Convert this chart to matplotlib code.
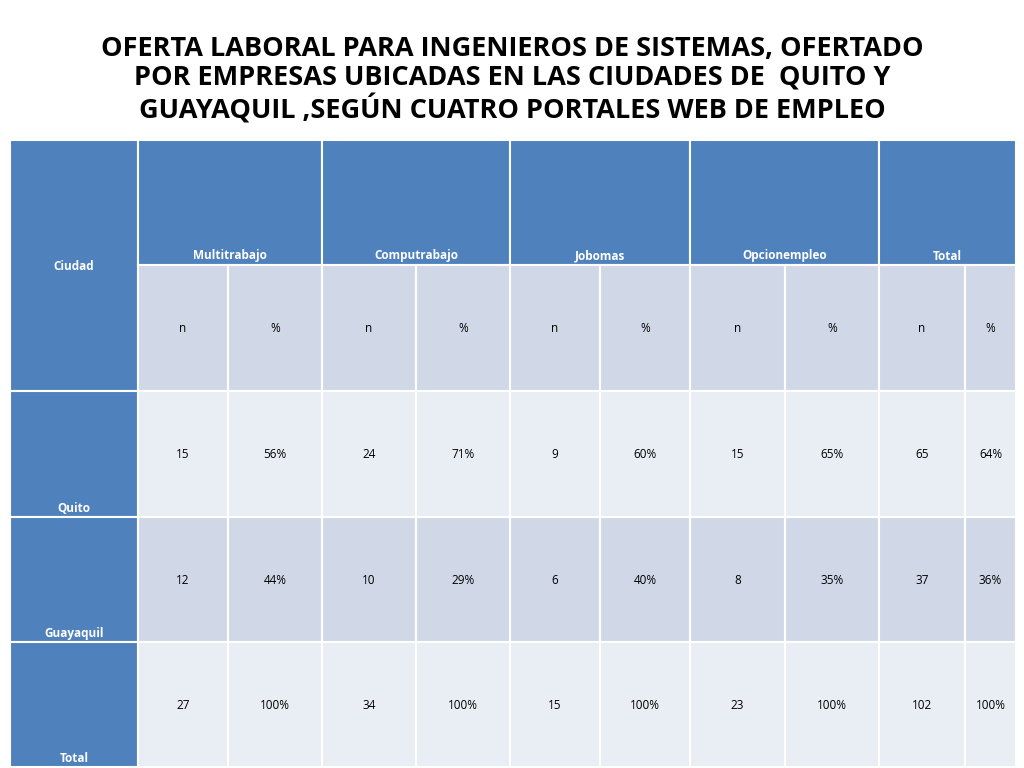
import matplotlib
matplotlib.use("Agg")
import matplotlib.pyplot as plt
from matplotlib.patches import Rectangle

title = "OFERTA LABORAL PARA INGENIEROS DE SISTEMAS, OFERTADO\nPOR EMPRESAS UBICADAS EN LAS CIUDADES DE  QUITO Y\nGUAYAQUIL ,SEGÚN CUATRO PORTALES WEB DE EMPLEO"
portals = ["Multitrabajo", "Computrabajo", "Jobomas", "Opcionempleo", "Total"]
cities = ["Quito", "Guayaquil", "Total"]
n_vals = [[15, 24, 9, 15, 65], [12, 10, 6, 8, 37], [27, 34, 15, 23, 102]]
pct_vals = [["56%", "71%", "60%", "65%", "64%"], ["44%", "29%", "40%", "35%", "36%"],
            ["100%", "100%", "100%", "100%", "100%"]]

xs = [10, 138, 228, 322, 416, 510, 600, 690, 785, 879, 965, 1016]
ys = [140, 265, 391, 517, 642, 767]
BLUE = "#4F81BD"; DARK = "#D0D8E8"; LIGHT = "#E9EDF4"
font = "Open Sans"

fig = plt.figure(figsize=(10.24, 7.68), dpi=100)
ax = fig.add_axes([0, 0, 1, 1])
ax.set_xlim(0, 1024); ax.set_ylim(768, 0); ax.axis("off")

def cell(x0, y0, x1, y1, fc):
    ax.add_patch(Rectangle((x0, y0), x1 - x0, y1 - y0, fc=fc, ec="white", lw=1.5))

ax.text(512, 80, title, ha="center", va="center", fontsize=19.5, fontweight="bold",
        family=font, linespacing=1.15, color="black")

# Ciudad header
cell(xs[0], ys[0], xs[1], ys[2], BLUE)
ax.text((xs[0] + xs[1]) / 2, 266, "Ciudad", ha="center", va="center", color="white",
        fontsize=8.5, fontweight="bold", family=font)
for i, p in enumerate(portals):
    x0, x1 = xs[1 + 2 * i], xs[3 + 2 * i]
    cell(x0, ys[0], x1, ys[1], BLUE)
    ax.text((x0 + x1) / 2, 256, p, ha="center", va="center", color="white",
            fontsize=8.5, fontweight="bold", family=font)
    for j, lab in enumerate(["n", "%"]):
        a, b = xs[1 + 2 * i + j], xs[2 + 2 * i + j]
        cell(a, ys[1], b, ys[2], DARK)
        ax.text((a + b) / 2, 329, lab, ha="center", va="center", fontsize=8.5, family=font)

for r, c in enumerate(cities):
    y0, y1 = ys[2 + r], ys[3 + r]
    cell(xs[0], y0, xs[1], y1, BLUE)
    ax.text((xs[0] + xs[1]) / 2, y1 - 9, c, ha="center", va="center", color="white",
            fontsize=8.5, fontweight="bold", family=font)
    fc = DARK if r == 1 else LIGHT
    for i in range(5):
        for j, v in enumerate([str(n_vals[r][i]), pct_vals[r][i]]):
            a, b = xs[1 + 2 * i + j], xs[2 + 2 * i + j]
            cell(a, y0, b, y1, fc)
            ax.text((a + b) / 2, (y0 + y1) / 2 + 1, v, ha="center", va="center",
                    fontsize=8.5, family=font)

fig.savefig("out.png", dpi=100, facecolor="white")
